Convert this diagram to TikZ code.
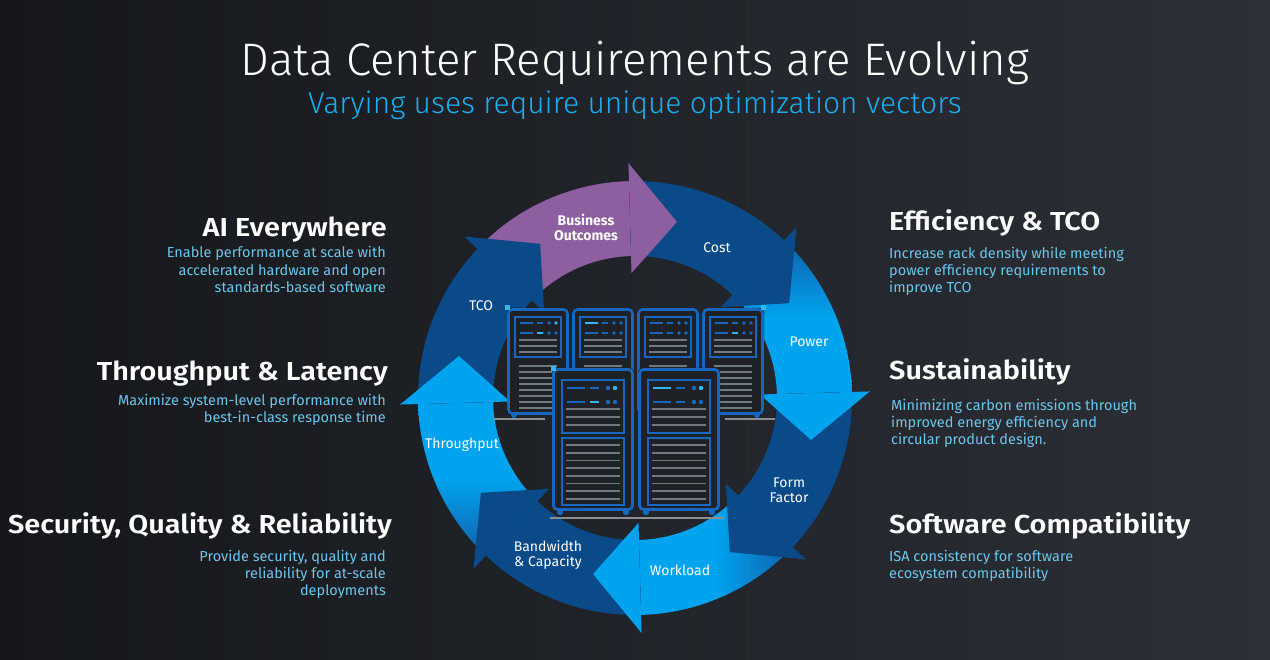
\documentclass[tikz,border=0pt]{standalone}
\usepackage{fontspec}
\setmainfont{Fira Sans}
\newfontfamily\titlefont{Fira Sans Light}
\newfontfamily\headfont{Fira Sans SemiBold}[FakeStretch=1.11]
\usetikzlibrary{calc}
\definecolor{bgL}{HTML}{15171B}
\definecolor{bgR}{HTML}{2C3037}
\definecolor{dblue}{HTML}{0A4A88}
\definecolor{lblue}{HTML}{00A3EE}
\definecolor{mblue}{HTML}{1260AA}
\definecolor{purp}{HTML}{8D5EA0}
\definecolor{subt}{HTML}{1AAEEF}
\definecolor{bodyc}{HTML}{6CC6EA}
\definecolor{rackblue}{HTML}{1766C0}
\definecolor{cyanacc}{HTML}{2FB8F5}
\definecolor{greyl}{HTML}{6F7A80}
\definecolor{rackbg}{HTML}{1E2126}
\definecolor{basegrey}{HTML}{8A8F94}
\tikzset{
  ringbody/.style={insert path={(#1+45:217pt) arc[start angle=#1+45, end angle=#1, radius=217pt] -- (#1:142pt) arc[start angle=#1, end angle=#1+45, radius=142pt] -- cycle}},
  ringhead/.style={insert path={(#1:235pt) -- (#1-15:181pt) -- (#1:125pt) -- cycle}},
  headl/.style={anchor=base east, inner sep=0pt, text=white, font=\headfont\fontsize{26}{30}\selectfont},
  headr/.style={anchor=base west, inner sep=0pt, text=white, font=\headfont\fontsize{26}{30}\selectfont},
  bodyl/.style={anchor=base east, inner sep=0pt, text=bodyc, font=\fontsize{14.5}{17}\selectfont},
  bodyr/.style={anchor=base west, inner sep=0pt, text=bodyc, font=\fontsize{14.5}{17}\selectfont},
  ringlbl/.style={anchor=center, inner sep=0pt, text=white, align=center, font=\fontsize{14}{15}\selectfont},
}
% back rack: #1 x0, #2 row1 dash colour, #3 row2 dash colour, #4 dot colour
\newcommand\backrack[4]{%
  \begin{scope}[shift={(#1,308)}]
    \fill[rackbg, rounded corners=4pt] (0,0) rectangle (62,107);
    \draw[rackblue, line width=2.6pt, rounded corners=4pt] (1.5,1.5) rectangle (60.5,105.5);
    \draw[rackblue, line width=2.4pt] (8,9) rectangle (54,49);
    \draw[#2, line width=2pt] (13,15) -- (26,15);
    \draw[rackblue, line width=2pt] (30,15) -- (36,15);
    \fill[rackblue] (42,15) circle (1.8pt);
    \fill[#4] (49,15) circle (1.8pt);
    \draw[rackblue, line width=2pt] (13,25) -- (26,25);
    \draw[#3, line width=2pt] (30,25) -- (36,25);
    \fill[rackblue] (42,25) circle (1.8pt) (49,25) circle (1.8pt);
    \foreach \yy in {32,38,44} \draw[greyl, line width=1.6pt] (12,\yy) -- (50,\yy);
    \foreach \yy in {58,64,...,100} \draw[greyl, line width=1.6pt] (12,\yy) -- (50,\yy);
    \fill[rackblue] (7,107) circle (3pt) (55,107) circle (3pt);
  \end{scope}}
% front rack: #1 x0, #2 row1 dash colour, #3 row2 dash colour
\newcommand\frontrack[3]{%
  \begin{scope}[shift={(#1,368)}]
    \fill[rackbg, rounded corners=4pt] (0,0) rectangle (82,143);
    \draw[rackblue, line width=2.8pt, rounded corners=4pt] (1.5,1.5) rectangle (80.5,141.5);
    \draw[rackblue, line width=2.6pt] (10,12) rectangle (72,65);
    \draw[#2, line width=2.4pt] (15,20) -- (33,20);
    \draw[rackblue, line width=2.4pt] (38,20) -- (47,20);
    \fill[rackblue] (56,20) circle (2.2pt);
    \fill[cyanacc] (63,20) circle (2.2pt);
    \draw[rackblue, line width=2.4pt] (15,34) -- (33,34);
    \draw[#3, line width=2.4pt] (38,34) -- (47,34);
    \fill[rackblue] (56,34) circle (2.2pt) (63,34) circle (2.2pt);
    \foreach \yy in {41,49,57} \draw[greyl, line width=1.8pt] (14,\yy) -- (68,\yy);
    \draw[rackblue, line width=2.6pt] (10,70) rectangle (72,137);
    \foreach \yy in {77,84.7,...,131} \draw[greyl, line width=1.8pt] (14,\yy) -- (68,\yy);
    \fill[rackblue] (8,144) circle (3.2pt) (74,144) circle (3.2pt);
  \end{scope}}
\begin{document}
\begin{tikzpicture}[x=1pt,y=-1pt]
\useasboundingbox (0,0) rectangle (1270,660);
\shade[left color=bgL, right color=bgR] (0,0) rectangle (1270,660);

% ---- title ----
\node[anchor=base, inner sep=0pt, text=white, font=\titlefont\fontsize{45.6}{50}\selectfont] (title) at (635,76) {Data Center Requirements are Evolving};
\node[anchor=base, inner sep=0pt, text=subt, font=\titlefont\fontsize{30}{34}\selectfont] (subtitle) at (635,114) {Varying uses require unique optimization vectors};

% ---- ring of arrows ----
\begin{scope}[shift={(635,398)}]
  \fill[purp, ringbody=91.6];
  \fill[dblue, ringbody=46.6];
  \shade[top color=mblue, bottom color=lblue, middle color=lblue, ringbody=1.6];
  \fill[dblue, ringbody=-43.4];
  \shade[left color=lblue, right color=mblue, middle color=lblue, ringbody=-88.4];
  \fill[dblue, ringbody=-133.4];
  \shade[bottom color=mblue, top color=lblue, middle color=lblue, ringbody=181.6];
  \fill[dblue, ringbody=136.6];
  \fill[purp, ringhead=91.6];
  \fill[dblue, ringhead=46.6];
  \fill[lblue, ringhead=1.6];
  \fill[dblue, ringhead=-43.4];
  \fill[lblue, ringhead=-88.4];
  \fill[dblue, ringhead=-133.4];
  \fill[lblue, ringhead=181.6];
  \fill[dblue, ringhead=136.6];
\end{scope}

% ---- server racks ----
\draw[basegrey, line width=2pt] (493,419) -- (545,419) (725,419) -- (775,419);
\backrack{507}{rackblue}{cyanacc}{cyanacc}
\backrack{572}{cyanacc}{rackblue}{rackblue}
\backrack{637}{rackblue}{rackblue}{rackblue}
\backrack{702}{rackblue}{cyanacc}{rackblue}
\draw[basegrey, line width=2pt] (550,518) -- (724,518);
\frontrack{552}{rackblue}{cyanacc}
\frontrack{638}{cyanacc}{rackblue}
\fill[cyanacc] (504.5,305.5) rectangle ++(5,5);
\fill[cyanacc] (761,305.5) rectangle ++(5,5);
\fill[cyanacc] (550.5,366) rectangle ++(5,5);

% ---- ring labels ----
\node[ringlbl, font=\fontsize{14}{15}\selectfont\bfseries] (lbus) at (586,227) {Business\\Outcomes};
\node[ringlbl] (lcost) at (717,248) {Cost};
\node[ringlbl] (lpow) at (809,342) {Power};
\node[ringlbl] (lform) at (789,490) {Form\\Factor};
\node[ringlbl] (lwork) at (680,570) {Workload};
\node[ringlbl] (lband) at (548,555) {Bandwidth\\\& Capacity};
\node[ringlbl] (lthr) at (462,445) {Throughput};
\node[ringlbl] (ltco) at (481,306) {TCO};

% ---- left column ----
\node[headl] (hai) at (387,237) {AI Everywhere};
\node[bodyl] (ai1) at (386,258) {Enable performance at scale with};
\node[bodyl] (ai2) at (386,276) {accelerated hardware and open};
\node[bodyl] (ai3) at (386,293) {standards-based software};
\node[headl] (hthr) at (388,381) {Throughput \& Latency};
\node[bodyl] (th1) at (386,406) {Maximize system-level performance with};
\node[bodyl] (th2) at (386,423) {best-in-class response time};
\node[headl] (hsec) at (392,533) {Security, Quality \& Reliability};
\node[bodyl] (se1) at (386,561) {Provide security, quality and};
\node[bodyl] (se2) at (386,578) {reliability for at-scale};
\node[bodyl] (se3) at (386,595) {deployments};

% ---- right column ----
\node[headr] (heff) at (889,231) {Efficiency \& TCO};
\node[bodyr] (ef1) at (889,259) {Increase rack density while meeting};
\node[bodyr] (ef2) at (889,276) {power efficiency requirements to};
\node[bodyr] (ef3) at (889,293) {improve TCO};
\node[headr] (hsus) at (889,380) {Sustainability};
\node[bodyr] (su1) at (891,411) {Minimizing carbon emissions through};
\node[bodyr] (su2) at (891,428) {improved energy efficiency and};
\node[bodyr] (su3) at (891,445) {circular product design.};
\node[headr] (hsw) at (889,533) {Software Compatibility};
\node[bodyr] (sw1) at (889,561) {ISA consistency for software};
\node[bodyr] (sw2) at (889,578) {ecosystem compatibility};
\end{tikzpicture}
\end{document}
